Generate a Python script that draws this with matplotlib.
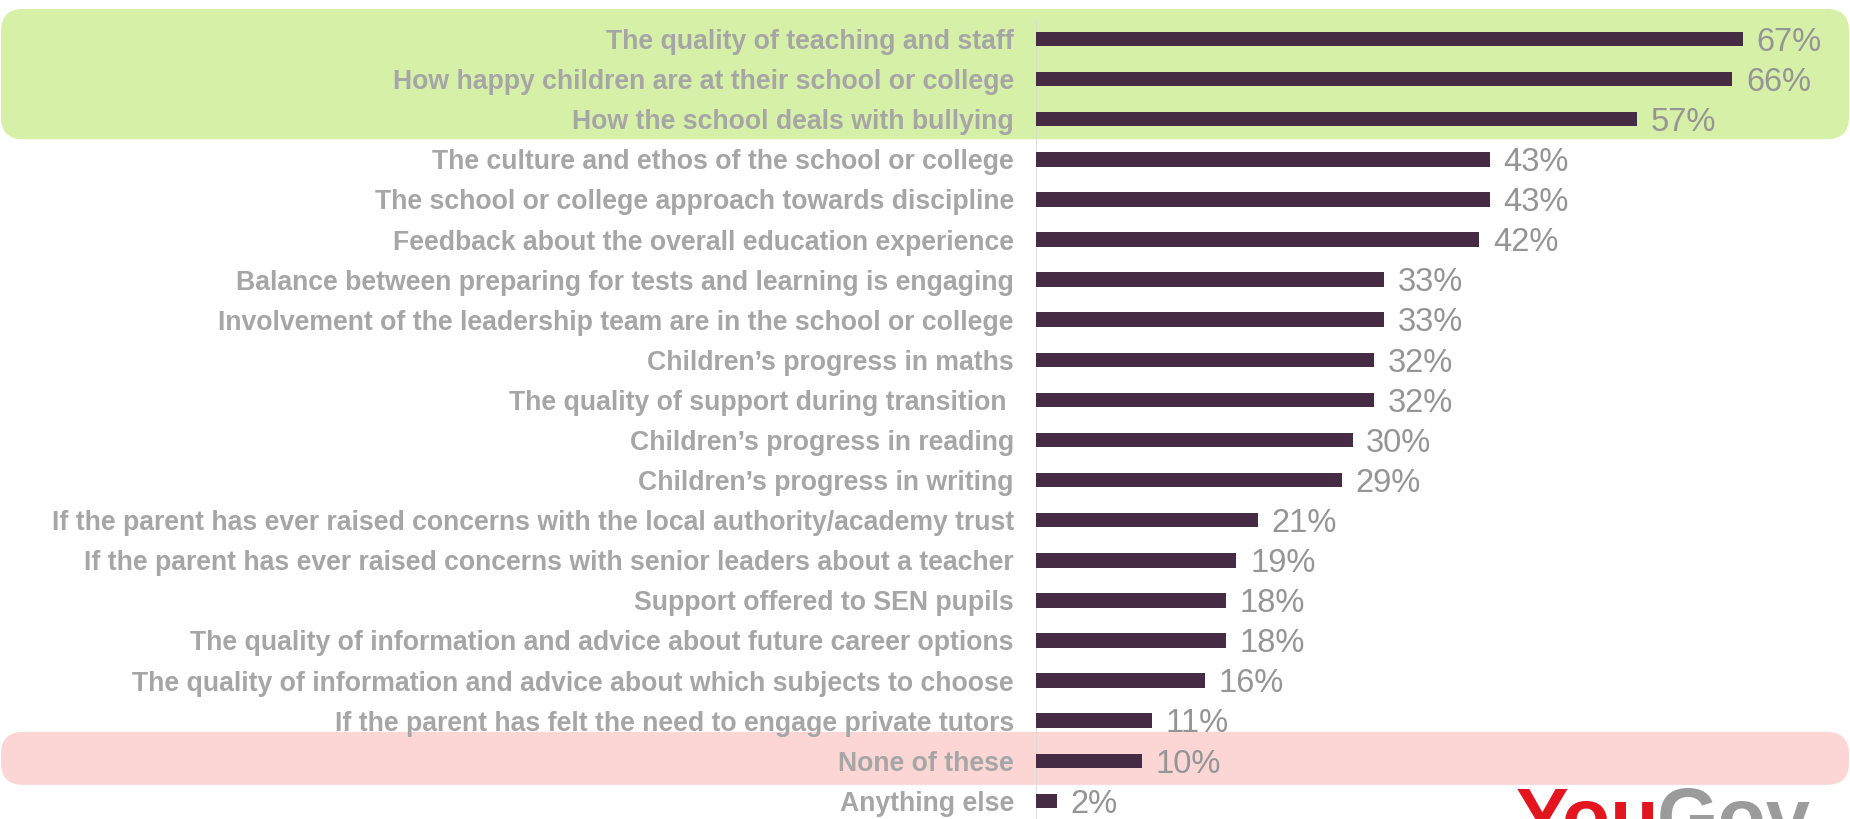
import matplotlib
matplotlib.use("Agg")
import matplotlib.pyplot as plt
from matplotlib.patches import FancyBboxPatch
from matplotlib.transforms import IdentityTransform

categories = [
    "The quality of teaching and staff",
    "How happy children are at their school or college",
    "How the school deals with bullying",
    "The culture and ethos of the school or college",
    "The school or college approach towards discipline",
    "Feedback about the overall education experience",
    "Balance between preparing for tests and learning is engaging",
    "Involvement of the leadership team are in the school or college",
    "Children\u2019s progress in maths",
    "The quality of support during transition ",
    "Children\u2019s progress in reading",
    "Children\u2019s progress in writing",
    "If the parent has ever raised concerns with the local authority/academy trust",
    "If the parent has ever raised concerns with senior leaders about a teacher",
    "Support offered to SEN pupils",
    "The quality of information and advice about future career options",
    "The quality of information and advice about which subjects to choose",
    "If the parent has felt the need to engage private tutors",
    "None of these",
    "Anything else",
]
values = [67, 66, 57, 43, 43, 42, 33, 33, 32, 32, 30, 29, 21, 19, 18, 18, 16, 11, 10, 2]
top_rows = [0, 1, 2]
none_row = [18]

W, H, DPI = 1850, 819, 100
BAR = "#452c44"
LABEL = "#a6a6a6"
PCT = "#959595"
GREEN = "#d7f0a8"
PINK = "#fcd5d5"

plt.rcParams["font.family"] = ["Liberation Sans", "DejaVu Sans"]

fig = plt.figure(figsize=(W / DPI, H / DPI), dpi=DPI)
fig.patch.set_facecolor("white")

# axes start at the vertical line, full height
ax_left = 1036 / W
ax = fig.add_axes([ax_left, 0, 1 - ax_left, 1])
ax.set_facecolor("none")

px_per_pct = 10.55
ax.set_xlim(0, (W - 1036) / px_per_pct)
row_h = 40.1
first = 39
ax.set_ylim((H - first) / row_h, -first / row_h)

ypos = list(range(len(categories)))
ax.barh(ypos, values, height=0.36, color=BAR, zorder=3)
for y, v in zip(ypos, values):
    ax.text(v + 1.3, y + 0.08, f"{v}%", va="center", ha="left",
            fontsize=23.5, color=PCT, zorder=4)

ax.set_yticks(ypos)
ax.set_yticklabels(categories, fontsize=19.2, fontweight="bold", color=LABEL)
ax.tick_params(axis="y", length=0, pad=16)
ax.tick_params(axis="x", bottom=False, labelbottom=False)
for s in ax.spines.values():
    s.set_visible(False)
ax.vlines(0, -0.48, len(categories), color="#dadada", lw=1.2, zorder=2)

# highlight bands drawn in pixel space so the corners stay round
fig.canvas.draw()


def band(r0, r1, color, pad_top, pad_bot):
    y_top = ax.transData.transform((0, r0 - pad_top))[1]
    y_bot = ax.transData.transform((0, r1 + pad_bot))[1]
    p = FancyBboxPatch((1, y_bot), W - 2, y_top - y_bot,
                       boxstyle="round,pad=0,rounding_size=22",
                       transform=IdentityTransform(), facecolor=color,
                       edgecolor="none", clip_on=False, zorder=0)
    ax.add_patch(p)


band(top_rows[0], top_rows[-1], GREEN, 0.75, 0.5)
band(none_row[0], none_row[0], PINK, 0.72, 0.6)

# logo, cut off at the bottom edge like the source
fig.text(1516 / W, 1 - 786 / H, "You", color="#e3151f", fontsize=57,
         fontweight="bold", va="top", ha="left")
fig.text(1657 / W, 1 - 786 / H, "Gov", color="#9b9b9b", fontsize=57,
         fontweight="bold", va="top", ha="left")

fig.savefig("out.png", dpi=DPI, facecolor="white")
